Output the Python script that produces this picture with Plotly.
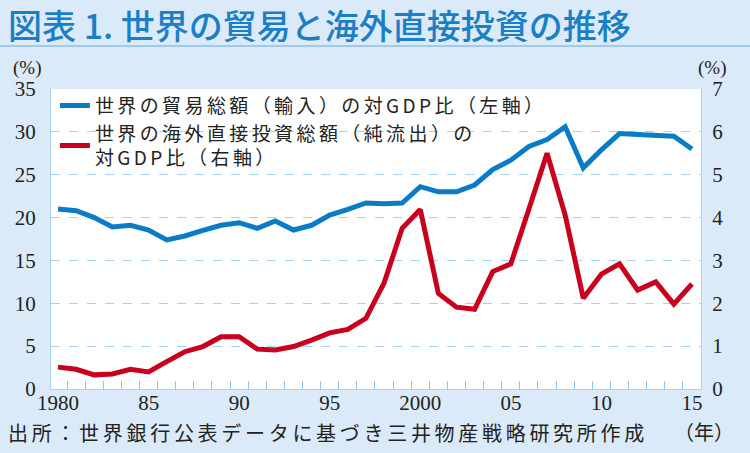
import plotly.graph_objects as go

years = list(range(1980, 2016))
trade_gdp = [21.0, 20.8, 20.0, 18.9, 19.1, 18.55, 17.4, 17.85, 18.5, 19.1,
             19.4, 18.75, 19.6, 18.55, 19.1, 20.3, 20.95, 21.7, 21.6, 21.7,
             23.6, 23.0, 23.0, 23.8, 25.6, 26.7, 28.3, 29.1, 30.6, 25.8,
             27.9, 29.8, 29.7, 29.6, 29.5, 28.0]
fdi_gdp = [0.51, 0.46, 0.33, 0.35, 0.46, 0.40, 0.64, 0.87, 0.99, 1.22,
           1.22, 0.93, 0.91, 0.99, 1.14, 1.31, 1.39, 1.65, 2.47, 3.75,
           4.19, 2.23, 1.91, 1.86, 2.74, 2.92, 4.2, 5.50, 4.06, 2.12,
           2.68, 2.92, 2.31, 2.50, 1.98, 2.45]
xtick_years = [1980, 1985, 1990, 1995, 2000, 2005, 2010, 2015]
xtick_text = ["1980", "85", "90", "95", "2000", "05", "10", "15"]

# ticks sit on year boundaries; labels are shifted back half a year
label_of = dict(zip(xtick_years, xtick_text))
tick_pos = [y + 0.5 for y in years]
tick_txt = [label_of.get(y, "") for y in years]

title_text = "図表 1. 世界の貿易と海外直接投資の推移"
source_text = "出所：世界銀行公表データに基づき三井物産戦略研究所作成"
name_trade = "世界の貿易総額（輸入）の対GDP比（左軸）"
name_fdi_1 = "世界の海外直接投資総額（純流出）の"
name_fdi_2 = "対GDP比（右軸）"

BG = "#dbeaf8"
GRID = "#a6d1f2"
AXL = "#a9d1f0"
TICKC = "#8fc4ec"
BLUE = "#0a7cc6"
RED = "#c8001e"
TXT = "#222222"
SERIF = "Liberation Serif"
JP = "Noto Sans CJK JP"

def ls(s, px):
    return f'<span style="letter-spacing:{px}px">{s}</span>'

fig = go.Figure()
fig.add_trace(go.Scatter(x=years, y=trade_gdp, mode="lines",
                         line=dict(color=BLUE, width=5),
                         name=ls(name_trade, 3.4), xaxis="x", yaxis="y"))
fig.add_trace(go.Scatter(x=years, y=fdi_gdp, mode="lines",
                         line=dict(color=RED, width=5),
                         name=ls(name_fdi_1, 3.4) + "<br>" + ls(name_fdi_2, 3.4),
                         xaxis="x", yaxis="y2"))

x_range = [1979.613, 2015.5]
half_year_px = 650 / (x_range[1] - x_range[0]) / 2

fig.update_layout(
    width=750, height=453,
    margin=dict(l=51, r=49, t=89, b=64),
    paper_bgcolor=BG, plot_bgcolor="white",
    showlegend=True,
    title=dict(text=title_text, xref="container", yref="container",
               x=8/750, xanchor="left", y=1-27/453, yanchor="middle",
               font=dict(family=JP, size=34, color="#1b7fc6", weight=500)),
    legend=dict(x=0.006, xanchor="left", y=1.008, yanchor="top",
                bgcolor="rgba(0,0,0,0)", borderwidth=0,
                font=dict(family=JP, size=19, color=TXT),
                itemwidth=30, tracegroupgap=0, traceorder="normal"),
    xaxis=dict(range=x_range, tickmode="array", tickvals=tick_pos,
               ticktext=tick_txt, ticks="inside", ticklen=8,
               tickcolor=TICKC, tickwidth=1,
               ticklabelshift=-round(half_year_px), ticklabelstandoff=-5,
               showgrid=False,
               showline=True, linecolor=AXL, linewidth=1, zeroline=False,
               tickfont=dict(family=SERIF, size=21, color=TXT)),
    yaxis=dict(range=[0, 35], tickmode="linear", tick0=0, dtick=5,
               showgrid=True, gridcolor=GRID, griddash="dash", gridwidth=1,
               showline=True, linecolor=AXL, linewidth=1, zeroline=False,
               ticks="", ticklabelstandoff=10,
               tickfont=dict(family=SERIF, size=21, color=TXT)),
    yaxis2=dict(range=[0, 7], tickmode="linear", tick0=0, dtick=1,
                overlaying="y", side="right", anchor="x", showgrid=False,
                showline=True, linecolor=AXL, linewidth=1, zeroline=False,
                ticks="", ticklabelstandoff=6,
                tickfont=dict(family=SERIF, size=21, color=TXT)),
)

# title underline
fig.add_shape(type="line", xref="paper", yref="paper",
              x0=-51/650, x1=699/650, y0=(389-46)/300, y1=(389-46)/300,
              line=dict(color="#9fcaec", width=2))
# white legend backing (covers gridlines, stays under the lines)
fig.add_shape(type="rect", xref="paper", yref="paper", layer="between",
              x0=7/650, x1=440/650, y0=(389-167)/300, y1=1.0,
              fillcolor="white", line=dict(width=0))

fig.add_annotation(text="(%)", xref="paper", yref="paper",
                   x=(27-51)/650, y=(389-68)/300, xanchor="center", yanchor="middle",
                   showarrow=False, font=dict(family=SERIF, size=19, color=TXT))
fig.add_annotation(text="(%)", xref="paper", yref="paper",
                   x=(712-51)/650, y=(389-68)/300, xanchor="center", yanchor="middle",
                   showarrow=False, font=dict(family=SERIF, size=19, color=TXT))
fig.add_annotation(text=ls(source_text, 3.7), xref="paper", yref="paper",
                   x=(6-51)/650, y=(389-432)/300, xanchor="left", yanchor="middle",
                   showarrow=False, font=dict(family=JP, size=20, color=TXT))
fig.add_annotation(text="（年）", xref="paper", yref="paper",
                   x=(704-51)/650, y=(389-431)/300, xanchor="center", yanchor="middle",
                   showarrow=False, font=dict(family=JP, size=20, color=TXT))

fig.write_html("out.html", config={"displayModeBar": False},
               post_script="document.body.style.margin='0px';")
